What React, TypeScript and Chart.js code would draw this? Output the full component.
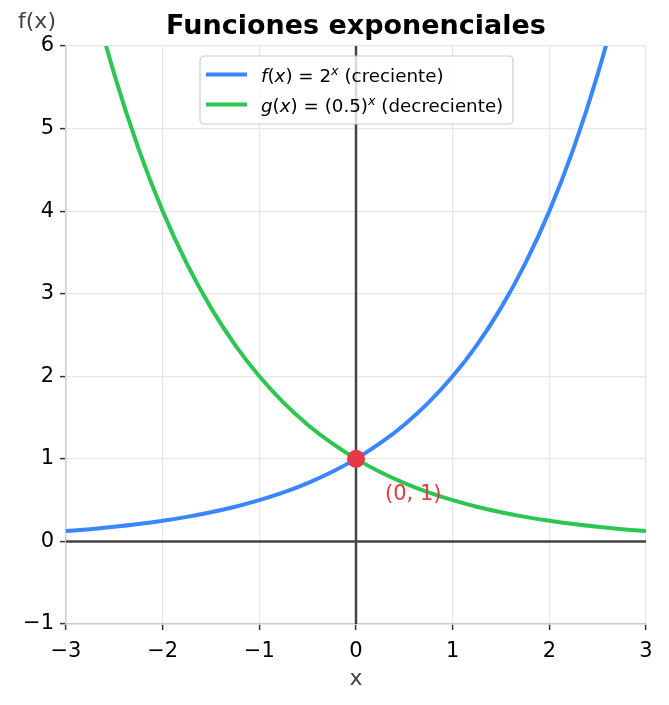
import React, { useEffect, useRef } from "react";
import { Chart, registerables } from "chart.js";

Chart.register(...registerables);

const xValues = [-3, -2.75, -2.5, -2.25, -2, -1.75, -1.5, -1.25, -1, -0.75, -0.5, -0.25, 0, 0.25, 0.5, 0.75, 1, 1.25, 1.5, 1.75, 2, 2.25, 2.5, 2.75, 3];
const fValues = [0.125, 0.1487, 0.1768, 0.2102, 0.25, 0.2973, 0.3536, 0.4204, 0.5, 0.5946, 0.7071, 0.8409, 1, 1.1892, 1.4142, 1.6818, 2, 2.3784, 2.8284, 3.3636, 4, 4.7568, 5.6569, 6.7272, 8];
const gValues = [8, 6.7272, 5.6569, 4.7568, 4, 3.3636, 2.8284, 2.3784, 2, 1.6818, 1.4142, 1.1892, 1, 0.8409, 0.7071, 0.5946, 0.5, 0.4204, 0.3536, 0.2973, 0.25, 0.2102, 0.1768, 0.1487, 0.125];
const keyPoint = [{ x: 0, y: 1 }];
const xTicks = [-3, -2, -1, 0, 1, 2, 3];
const yTicks = [-1, 0, 1, 2, 3, 4, 5, 6];

const BLUE = "#3a86ff";
const GREEN = "#2dc653";
const RED = "#e63946";
const FONT = "DejaVu Sans";

type Run = { t: string; it?: boolean; sup?: boolean };

function drawRuns(ctx: CanvasRenderingContext2D, runs: Run[], x: number, y: number, size: number) {
  let cx = x;
  for (const r of runs) {
    const s = r.sup ? size * 0.7 : size;
    ctx.font = `${r.it ? "italic " : ""}${s}px ${FONT}`;
    const dy = r.sup ? -size * 0.38 : 0;
    ctx.fillText(r.t, cx, y + dy);
    cx += ctx.measureText(r.t).width;
  }
}

const fmt = (v: number) => String(v).replace("-", "\u2212");

const overlay = {
  id: "overlay",
  beforeDatasetsDraw(chart: any) {
    const { ctx, chartArea, scales } = chart;
    const x0 = scales.x.getPixelForValue(0);
    const y0 = scales.y.getPixelForValue(0);
    ctx.save();
    ctx.strokeStyle = "#444";
    ctx.lineWidth = 2.5;
    ctx.beginPath();
    ctx.moveTo(chartArea.left, y0);
    ctx.lineTo(chartArea.right, y0);
    ctx.moveTo(x0, chartArea.top);
    ctx.lineTo(x0, chartArea.bottom);
    ctx.stroke();
    ctx.restore();
  },
  afterDraw(chart: any) {
    const { ctx, chartArea, scales } = chart;
    ctx.save();
    // title
    ctx.fillStyle = "#000";
    ctx.font = `bold 27px ${FONT}`;
    ctx.textAlign = "center";
    ctx.textBaseline = "middle";
    ctx.fillText("Funciones exponenciales", (chartArea.left + chartArea.right) / 2, 27);
    // axis labels
    ctx.fillStyle = "#444";
    ctx.font = `22px ${FONT}`;
    ctx.fillText("f(x)", 37, 22);
    ctx.fillText("x", (chartArea.left + chartArea.right) / 2, 679);
    // annotation
    ctx.fillStyle = RED;
    ctx.font = `21px ${FONT}`;
    ctx.textAlign = "left";
    ctx.fillText("(0, 1)", scales.x.getPixelForValue(0.3), scales.y.getPixelForValue(0.57));
    // legend
    const bx = 200, by = 56, bw = 313, bh = 68;
    ctx.fillStyle = "rgba(255,255,255,0.8)";
    ctx.strokeStyle = "#cccccc";
    ctx.lineWidth = 1.2;
    ctx.beginPath();
    ctx.roundRect(bx, by, bw, bh, 4);
    ctx.fill();
    ctx.stroke();
    ctx.lineWidth = 4;
    ctx.strokeStyle = BLUE;
    ctx.beginPath();
    ctx.moveTo(206, 74.5);
    ctx.lineTo(247, 74.5);
    ctx.stroke();
    ctx.strokeStyle = GREEN;
    ctx.beginPath();
    ctx.moveTo(206, 104.5);
    ctx.lineTo(247, 104.5);
    ctx.stroke();
    ctx.fillStyle = "#000";
    ctx.textBaseline = "alphabetic";
    drawRuns(ctx, [
      { t: "f", it: true }, { t: "(" }, { t: "x", it: true }, { t: ")" }, { t: " = 2" },
      { t: "x", it: true, sup: true }, { t: " (creciente)" },
    ], 261, 81.5, 18.3);
    drawRuns(ctx, [
      { t: "g", it: true }, { t: "(" }, { t: "x", it: true }, { t: ")" }, { t: " = (0.5)" },
      { t: "x", it: true, sup: true }, { t: " (decreciente)" },
    ], 261, 111.5, 18.3);
    ctx.restore();
  },
};

export default function App() {
  const ref = useRef<HTMLCanvasElement>(null);
  useEffect(() => {
    if (!ref.current) return;
    Chart.defaults.font.family = FONT;
    const chart = new Chart(ref.current, {
      type: "scatter",
      data: {
        datasets: [
          {
            label: "f",
            data: xValues.map((x, i) => ({ x, y: fValues[i] })),
            showLine: true,
            borderColor: BLUE,
            borderWidth: 4,
            pointRadius: 0,
            cubicInterpolationMode: "monotone",
            clip: 0,
            order: 2,
          } as any,
          {
            label: "g",
            data: xValues.map((x, i) => ({ x, y: gValues[i] })),
            showLine: true,
            borderColor: GREEN,
            borderWidth: 4,
            pointRadius: 0,
            cubicInterpolationMode: "monotone",
            clip: 0,
            order: 1,
          } as any,
          {
            label: "p",
            data: keyPoint,
            showLine: false,
            pointRadius: 9,
            pointBackgroundColor: RED,
            pointBorderWidth: 0,
            order: 0,
          } as any,
        ],
      },
      options: {
        animation: false,
        responsive: false,
        layout: { padding: { top: 46, right: 23, left: 0, bottom: 0 } },
        plugins: { legend: { display: false }, tooltip: { enabled: false }, title: { display: false } },
        scales: {
          x: {
            type: "linear",
            min: -3,
            max: 3,
            afterFit: (s: any) => { s.height = 81; },
            afterBuildTicks: (s: any) => { s.ticks = xTicks.map((v) => ({ value: v })); },
            ticks: { color: "#000", font: { size: 21 }, padding: 9, callback: (v: any) => fmt(v) },
            grid: { color: "#e6e6e6", lineWidth: 1.2, tickColor: "#333", tickLength: 6, tickWidth: 1.5 },
            border: { color: "#cccccc", width: 1.5 },
          },
          y: {
            type: "linear",
            min: -1,
            max: 6,
            afterFit: (s: any) => { s.width = 66; },
            afterBuildTicks: (s: any) => { s.ticks = yTicks.map((v) => ({ value: v })); },
            ticks: { color: "#000", font: { size: 21 }, padding: 6, callback: (v: any) => fmt(v) },
            grid: { color: "#e6e6e6", lineWidth: 1.2, tickColor: "#333", tickLength: 6, tickWidth: 1.5 },
            border: { color: "#cccccc", width: 1.5 },
          },
        },
      },
      plugins: [overlay],
    } as any);
    return () => chart.destroy();
  }, []);
  return (
    <div style={{ position: "fixed", left: 0, top: 0, width: 669, height: 705, background: "#fff" }}>
      <canvas ref={ref} width={669} height={705} style={{ width: 669, height: 705, display: "block" }} />
    </div>
  );
}
